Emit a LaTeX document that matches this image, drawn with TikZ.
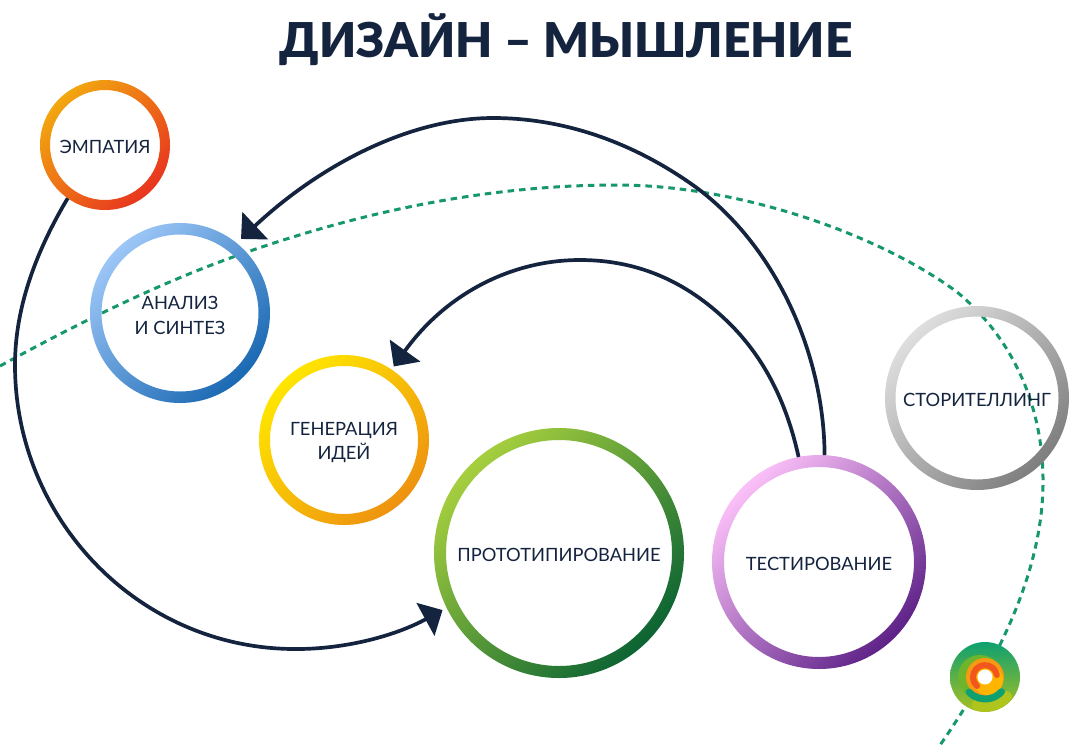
\documentclass[tikz,border=0pt]{standalone}
\usepackage{fontspec}
\setmainfont{Lato}
\newfontfamily\titlefont[BoldFont={Lato Black}]{Lato}
\usetikzlibrary{arrows.meta}
\definecolor{navy}{HTML}{14243F}
\definecolor{dashgreen}{HTML}{17976C}
\definecolor{empA}{HTML}{F2A70F}\definecolor{empB}{HTML}{E8351F}
\definecolor{anaA}{HTML}{9CC6F7}\definecolor{anaB}{HTML}{1A69B3}
\definecolor{genA}{HTML}{FFE600}\definecolor{genB}{HTML}{EE9210}
\definecolor{proA}{HTML}{A6CF3E}\definecolor{proB}{HTML}{0C6433}
\definecolor{tesA}{HTML}{FBC0F8}\definecolor{tesB}{HTML}{5E2288}
\definecolor{stoA}{HTML}{DEDEDE}\definecolor{stoB}{HTML}{7E7E7E}
\definecolor{logoG}{HTML}{0FA070}\definecolor{logoL}{HTML}{A8C020}
\definecolor{logoM}{HTML}{6FB52C}\definecolor{logoO}{HTML}{F59A12}
\definecolor{logoY}{HTML}{FFB400}\definecolor{logoR}{HTML}{F0561E}
\definecolor{logoB}{HTML}{B0C41E}
\tikzset{
  x=1pt,y=-1pt,
  label text/.style={text=navy,font=\fontsize{18.3}{24.5}\selectfont,align=center,inner sep=0pt,outer sep=0pt,yshift=-2.3pt},
  ring hold/.style={circle,inner sep=0pt,outer sep=0pt},
  link/.style={draw=navy,line width=3.7pt,-{Triangle[length=19.5pt,width=37pt]}},
  route/.style={draw=dashgreen,line width=3pt,dash pattern=on 6.5pt off 5pt},
}
% #1 name, #2 centre, #3 outer r, #4 thickness, #5/#6 colours, #7 text
\newcommand{\ringnode}[7]{%
  \shade[even odd rule,left color=#5,right color=#6,shading angle=45]
    (#2) circle[radius=#3] (#2) circle[radius=#3-#4];
  \node[ring hold,minimum size=2*#3 pt,label={[label text]center:{#7}}] (#1) at (#2) {};
}
\begin{document}
\begin{tikzpicture}
\useasboundingbox (0,0) rectangle (1089,745);
\fill[white] (0,0) rectangle (1089,745);
\draw[route] (0,366) .. controls (75,325) and (155,285) .. (233,257)
  .. controls (350,215) and (480,185) .. (617,185)
  .. controls (740,185) and (880,235) .. (957,292)
  .. controls (1015,340) and (1044,410) .. (1043,485)
  .. controls (1042,560) and (1010,645) .. (938,748);
\ringnode{emp}{105,145}{65}{10}{empA}{empB}{ЭМПАТИЯ}
\ringnode{ana}{180,313}{90}{11.5}{anaA}{anaB}{АНАЛИЗ\\И СИНТЕЗ}
\ringnode{gen}{344,440}{85}{11}{genA}{genB}{ГЕНЕРАЦИЯ\\ИДЕЙ}
\ringnode{pro}{559,553}{125}{12}{proA}{proB}{ПРОТОТИПИРОВАНИЕ}
\ringnode{tes}{819,562}{107}{12}{tesA}{tesB}{ТЕСТИРОВАНИЕ}
\ringnode{sto}{977,398}{92}{10.5}{stoA}{stoB}{СТОРИТЕЛЛИНГ}
\path[link,shorten >=4.7pt] (emp.-125) .. controls (38,248) and (15,305) .. (15,365)
  .. controls (15,520) and (140,650) .. (297,649)
  .. controls (345,649) and (395,636) .. (pro.206.6);
\path[link,shorten >=6pt] (tes.87.3) .. controls (824,355) and (777,248) .. (697,188)
  .. controls (635,143) and (565,118) .. (493,118)
  .. controls (410,118) and (320,165) .. (ana.51.3);
\path[link,shorten >=3.8pt] (tes.101.6) .. controls (785,395) and (760,355) .. (733,327)
  .. controls (690,283) and (640,260) .. (580,260)
  .. controls (510,260) and (445,295) .. (gen.56.5);
% logo
\begin{scope}[shift={(985,677)},x=1pt,y=1pt]
  \shade[top color=logoG,middle color=logoG,bottom color=logoL] (0,0) circle[radius=35];
  \fill[logoM] (-5,0) circle[radius=22];
  \fill[logoO] (0,0) circle[radius=19];
  \fill[logoY] (3,-3) circle[radius=15];
  \draw[logoR,line width=6pt,line cap=round] (-8,-9) arc[start angle=228,end angle=10,radius=12];
  \fill[white] (0,0) circle[radius=7.5];
  \begin{scope}
    \clip (0,0) circle[radius=35];
    \draw[logoB,line width=11pt,line cap=round] (-8,-28) arc[start angle=-106,end angle=-42,radius=29];
  \end{scope}
  \draw[logoG,line width=7pt,line cap=round] (-16,-15) arc[start angle=223,end angle=318,radius=22];
\end{scope}
\node[text=navy,font=\titlefont\bfseries\fontsize{48}{58}\selectfont,inner sep=0pt] (title) at (566,40) {ДИЗАЙН – МЫШЛЕНИЕ};
\end{tikzpicture}
\end{document}
